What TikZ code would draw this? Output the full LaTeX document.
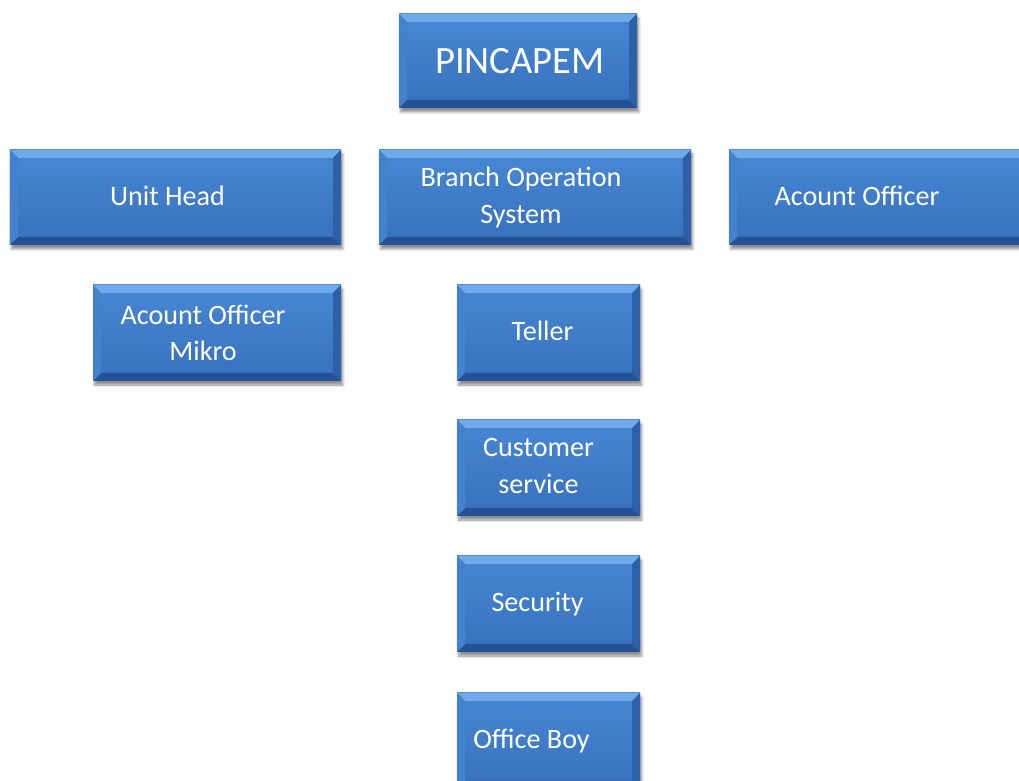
\documentclass[tikz,border=0pt]{standalone}
\usepackage{fontspec}
\setmainfont{Carlito}
\usepackage{tikz}
\usetikzlibrary{positioning,shadows.blur}
\definecolor{facetop}{RGB}{72,136,212}
\definecolor{facebottom}{RGB}{56,112,188}
\definecolor{beveltop}{RGB}{112,170,234}
\definecolor{bevelleft}{RGB}{68,130,206}
\definecolor{bevelright}{RGB}{44,96,168}
\definecolor{bevelbottom}{RGB}{36,82,148}
\tikzset{
    org box/.style={rectangle, top color=facetop, bottom color=facebottom, draw=none,
        inner sep=0pt, minimum height=2.4cm,
        blur shadow={shadow xshift=0.04cm, shadow yshift=-0.1cm, shadow opacity=45, shadow blur steps=6},
        path picture={
            % bevelled rim on all four sides
            \fill[beveltop] (path picture bounding box.north west) -- (path picture bounding box.north east)
                -- ++(-0.2,-0.2) -- ([shift={(0.2,-0.2)}]path picture bounding box.north west) -- cycle;
            \fill[bevelbottom] (path picture bounding box.south west) -- (path picture bounding box.south east)
                -- ++(-0.2,0.2) -- ([shift={(0.2,0.2)}]path picture bounding box.south west) -- cycle;
            \fill[bevelleft] (path picture bounding box.north west) -- ++(0.2,-0.2)
                -- ([shift={(0.2,0.2)}]path picture bounding box.south west) -- (path picture bounding box.south west) -- cycle;
            \fill[bevelright] (path picture bounding box.north east) -- ++(-0.2,-0.2)
                -- ([shift={(-0.2,0.2)}]path picture bounding box.south east) -- (path picture bounding box.south east) -- cycle;
        }},
    box text/.style={text=white, font=\fontsize{20}{26}\selectfont, align=center, inner sep=0pt}
}

\begin{document}
\begin{tikzpicture}
    \useasboundingbox (0,0) rectangle (25.475,-19.525);
    \clip (0,0) rectangle (25.475,-19.525);

    % Head of branch
    \node[org box, minimum width=5.95cm, minimum height=2.35cm] (pincapem) at (12.95,-1.525) {};
    \node[box text, font=\fontsize{27.5}{32}\selectfont] (pincapem-t) at ([xshift=0.05cm]pincapem.center) {PINCAPEM};

    % Second row
    \node[org box, minimum width=8.275cm, minimum height=2.375cm] (unithead) at (4.3875,-4.9375) {};
    \node[box text] (unithead-t) at ([xshift=-0.2cm,yshift=0.05cm]unithead.center) {Unit Head};

    \node[org box, minimum width=7.8cm, minimum height=2.375cm] (branch) at (13.375,-4.9375) {};
    \node[box text] (branch-t) at ([xshift=-0.35cm]branch.center) {Branch Operation\\System};

    \node[org box, minimum width=7.8cm, minimum height=2.375cm] (acount) at (22.125,-4.9375) {};
    \node[box text] (acount-t) at ([xshift=-0.7cm,yshift=0.05cm]acount.center) {Acount Officer};

    % Under unit head
    \node[org box, minimum width=6.2cm] (mikro) at (5.425,-8.325) {};
    \node[box text] (mikro-t) at ([xshift=-0.35cm]mikro.center) {Acount Officer\\Mikro};

    % Under branch operation
    \node[org box, minimum width=4.575cm] (teller) at (13.7125,-8.325) {};
    \node[box text] (teller-t) at ([xshift=-0.15cm,yshift=0.05cm]teller.center) {Teller};

    \node[org box, minimum width=4.575cm] (cs) at (13.7125,-11.7) {};
    \node[box text] (cs-t) at ([xshift=-0.25cm,yshift=0.05cm]cs.center) {Customer\\service};

    \node[org box, minimum width=4.575cm] (security) at (13.7125,-15.1) {};
    \node[box text] (security-t) at ([xshift=-0.275cm]security.center) {Security};

    \node[org box, minimum width=4.575cm] (officeboy) at (13.7125,-18.525) {};
    \node[box text] (officeboy-t) at ([xshift=-0.425cm]officeboy.center) {Office Boy};
\end{tikzpicture}
\end{document}
